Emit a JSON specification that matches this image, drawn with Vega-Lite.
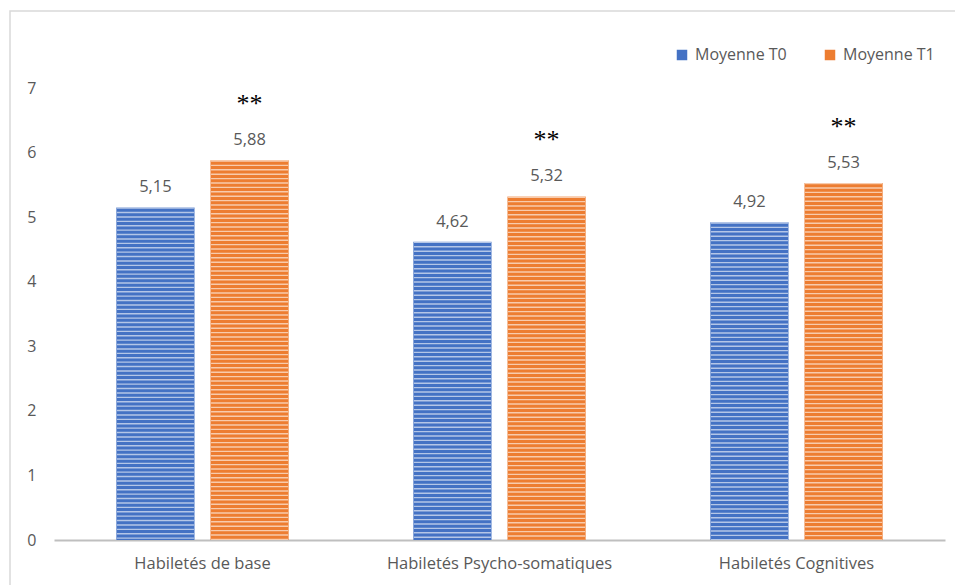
{
  "$schema": "https://vega.github.io/schema/vega-lite/v6.json",
  "autosize": {"type": "none"},
  "padding": {"left": 10, "top": 11, "right": 0, "bottom": 0},
  "width": 1000,
  "height": 580,
  "background": "white",
  "config": {
    "view": {"stroke": "#D9D9D9", "strokeWidth": 1.5},
    "font": "Open Sans",
    "locale": {"number": {"decimal": ",", "thousands": " ", "grouping": [3], "currency": ["", " €"]}}
  },
  "data": {
    "values": [
      {"cat": "Habiletés de base", "serie": "Moyenne T0", "value": 5.15, "sig": ""},
      {"cat": "Habiletés de base", "serie": "Moyenne T1", "value": 5.88, "sig": "**"},
      {"cat": "Habiletés Psycho-somatiques", "serie": "Moyenne T0", "value": 4.62, "sig": ""},
      {"cat": "Habiletés Psycho-somatiques", "serie": "Moyenne T1", "value": 5.32, "sig": "**"},
      {"cat": "Habiletés Cognitives", "serie": "Moyenne T0", "value": 4.92, "sig": ""},
      {"cat": "Habiletés Cognitives", "serie": "Moyenne T1", "value": 5.53, "sig": "**"}
    ]
  },
  "encoding": {
    "x": {
      "field": "cat", "type": "nominal", "sort": null,
      "scale": {"range": [44, 935], "paddingInner": 0.42, "paddingOuter": 0.21},
      "axis": {
        "title": null, "orient": "bottom", "offset": -51, "ticks": false, "tickSize": 0,
        "domainColor": "#BFBFBF", "domainWidth": 2, "labelAngle": 0, "labelLimit": 0,
        "labelFontSize": 16.5, "labelColor": "#595959", "labelPadding": 15, "labelFont": "Open Sans"
      }
    },
    "xOffset": {
      "field": "serie", "type": "nominal",
      "scale": {"paddingInner": 0.17, "paddingOuter": 0}
    },
    "y": {
      "field": "value", "type": "quantitative",
      "scale": {"domain": [0, 7], "range": [529, 77], "nice": false},
      "axis": {
        "title": null, "values": [0, 1, 2, 3, 4, 5, 6, 7], "format": "d",
        "grid": false, "domain": false, "ticks": false, "tickSize": 0,
        "offset": -26, "labelPadding": 0,
        "labelFontSize": 16, "labelColor": "#595959", "labelFont": "Open Sans"
      }
    }
  },
  "layer": [
    {
      "mark": {"type": "bar"},
      "encoding": {
        "y2": {"datum": 0},
        "color": {
          "field": "serie", "type": "nominal",
          "scale": {"domain": ["Moyenne T0", "Moyenne T1"], "range": ["#4472C4", "#ED7D31"]},
          "legend": {
            "title": null, "orient": "none", "legendX": 664, "legendY": 36,
            "direction": "horizontal", "symbolType": "square", "symbolSize": 110,
            "labelFontSize": 16, "labelColor": "#595959", "labelFont": "Open Sans",
            "columnPadding": 35, "symbolOffset": 0, "labelOffset": 5
          }
        }
      }
    },
    {
      "mark": {"type": "rule", "color": "white", "opacity": 0.6, "strokeWidth": 77, "strokeDash": [1.4, 3], "strokeCap": "butt"},
      "encoding": {
        "y2": {"datum": 0}
      }
    },
    {
      "mark": {"type": "text", "baseline": "middle", "dy": -20, "fontSize": 16.5, "color": "#595959", "font": "Open Sans"},
      "encoding": {
        "text": {"field": "value", "type": "quantitative", "format": ".2f"}
      }
    },
    {
      "mark": {"type": "text", "baseline": "alphabetic", "dy": -48, "fontSize": 26, "color": "black", "font": "Liberation Serif"},
      "encoding": {
        "text": {"field": "sig"}
      }
    }
  ]
}
